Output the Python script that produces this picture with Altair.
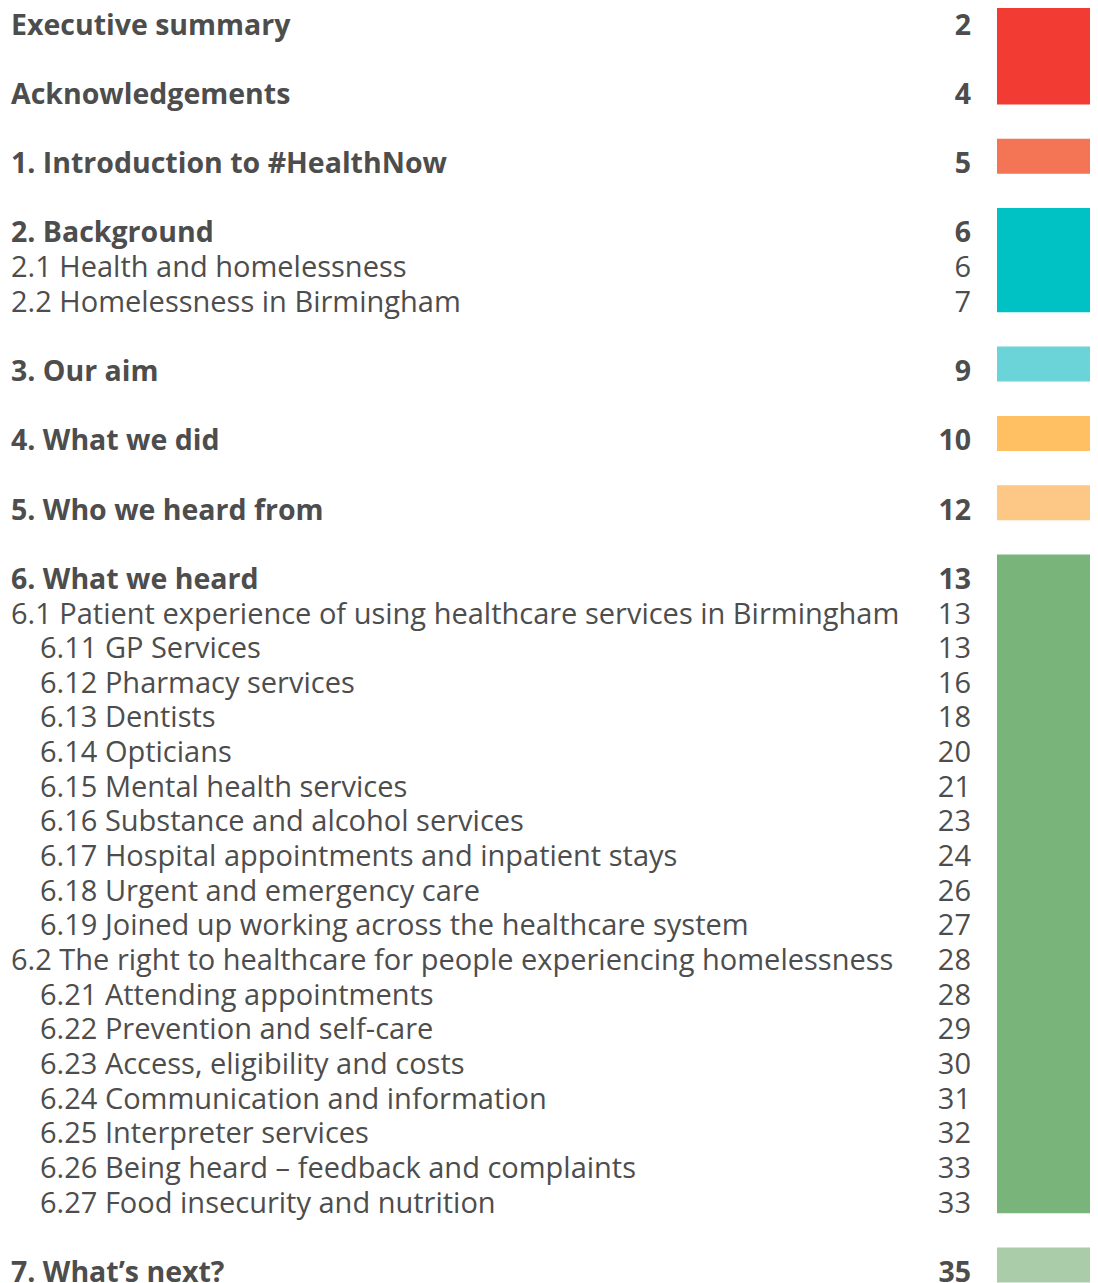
import altair as alt
import pandas as pd

labels = [
    "Executive summary", "Acknowledgements", "1. Introduction to #HealthNow",
    "2. Background", "2.1 Health and homelessness", "2.2 Homelessness in Birmingham",
    "3. Our aim", "4. What we did", "5. Who we heard from", "6. What we heard",
    "6.1 Patient experience of using healthcare services in Birmingham",
    "6.11 GP Services", "6.12 Pharmacy services", "6.13 Dentists", "6.14 Opticians",
    "6.15 Mental health services", "6.16 Substance and alcohol services",
    "6.17 Hospital appointments and inpatient stays", "6.18 Urgent and emergency care",
    "6.19 Joined up working across the healthcare system",
    "6.2 The right to healthcare for people experiencing homelessness",
    "6.21 Attending appointments", "6.22 Prevention and self-care",
    "6.23 Access, eligibility and costs", "6.24 Communication and information",
    "6.25 Interpreter services", "6.26 Being heard \u2013 feedback and complaints",
    "6.27 Food insecurity and nutrition", "7. What\u2019s next?",
]
pages = ["2", "4", "5", "6", "6", "7", "9", "10", "12", "13", "13", "13", "16", "18", "20",
         "21", "23", "24", "26", "27", "28", "28", "29", "30", "31", "32", "33", "33", "35"]
levels = [0, 0, 0, 0, 1, 1, 0, 0, 0, 0, 1, 2, 2, 2, 2, 2, 2, 2, 2, 2, 1, 2, 2, 2, 2, 2, 2, 2, 0]
groups = ["A", "A", "B", "C", "C", "C", "D", "E", "F", "G", "G", "G", "G", "G", "G",
          "G", "G", "G", "G", "G", "G", "G", "G", "G", "G", "G", "G", "G", "H"]
group_ids = ["A", "B", "C", "D", "E", "F", "G", "H"]
group_colors = ["#F23B33", "#F47555", "#00C1C4", "#6AD4D8", "#FEC063", "#FDC785", "#79B47A", "#AACCA8"]

# row order, with a blank row before each top-level heading
rows = []
r = 0
for i, lv in enumerate(levels):
    if i > 0:
        r += 2 if lv == 0 else 1
    rows.append(r)

df = pd.DataFrame({"label": labels, "page": pages, "level": levels, "group": groups, "row": rows})
bars = df.groupby("group").agg(r0=("row", "min"), r1=("row", "max")).reset_index()
bars["top"] = bars["r0"] - 0.69
bars["bottom"] = bars["r1"] + 0.32

TEXT = "#4D4D4D"
FONT = "Open Sans"
W = 1082
H = 1275
yscale = alt.Scale(domain=[-0.4618, 36.335], reverse=True, nice=False, zero=False)

bar_layer = alt.Chart(bars).mark_rect().encode(
    x=alt.value(989), x2=alt.value(W),
    y=alt.Y("top:Q", scale=yscale, axis=None),
    y2="bottom:Q",
    color=alt.Color("group:N", scale=alt.Scale(domain=group_ids, range=group_colors), legend=None),
)

base = alt.Chart(df)

def text_layer(level, x, weight, size, field, align):
    return base.transform_filter(alt.datum.level == level).mark_text(
        font=FONT, fontSize=size, fontWeight=weight, color=TEXT, align=align,
        baseline="alphabetic", dy=10.5
    ).encode(
        x=alt.value(x),
        y=alt.Y("row:Q", scale=yscale, axis=None),
        text=f"{field}:N",
    )

layers = [
    bar_layer,
    text_layer(0, 3, "bold", 28.5, "label", "left"),
    text_layer(1, 3, "normal", 29, "label", "left"),
    text_layer(2, 32, "normal", 29, "label", "left"),
    text_layer(0, 963, "bold", 28.5, "page", "right"),
    text_layer(1, 963, "normal", 29, "page", "right"),
    text_layer(2, 963, "normal", 29, "page", "right"),
]

chart = alt.layer(*layers).properties(
    width=W, height=H, padding=0, autosize="none"
).configure_view(stroke=None)

chart.save("out.html", embed_options={"renderer": "svg", "actions": False})
